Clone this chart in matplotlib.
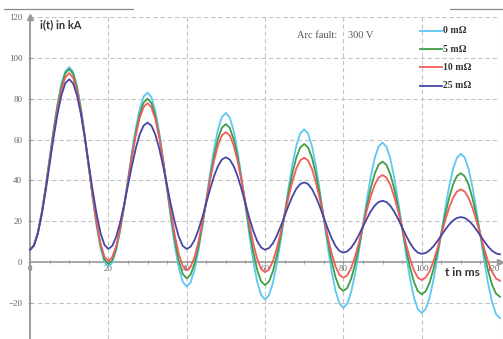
import matplotlib
matplotlib.use("Agg")
import matplotlib.pyplot as plt
from matplotlib.ticker import MultipleLocator
from matplotlib.lines import Line2D

# time axis in ms (1 ms steps)
t_ms = list(range(0, 121))

i_0mohm = [
    6, 8.2, 14.5, 24.4, 36.9, 50.8, 64.6, 77.1, 87.0, 93.4,
    95.5, 93.2, 86.2, 75.4, 61.8, 46.6, 31.4, 17.8, 7.0, 0.0,
    -2.3, -0.3, 5.8, 15.3, 27.1, 40.4, 53.6, 65.4, 74.9, 81.0,
    83, 80.7, 74.0, 63.4, 50.2, 35.5, 20.8, 7.6, -3.0, -9.7,
    -12, -10.0, -3.9, 5.5, 17.3, 30.5, 43.7, 55.5, 64.9, 71.0,
    73, 70.8, 64.3, 54.2, 41.5, 27.4, 13.2, 0.5, -9.6, -16.1,
    -18.3, -16.3, -10.4, -1.1, 10.4, 23.4, 36.3, 47.8, 57.1, 63.0,
    65, 62.9, 56.7, 47.0, 34.8, 21.3, 7.8, -4.4, -14.1, -20.3,
    -22.4, -20.5, -14.7, -5.7, 5.5, 18.1, 30.6, 41.8, 50.8, 56.6,
    58.5, 56.5, 50.6, 41.3, 29.7, 16.8, 3.8, -7.8, -17.1, -23.0,
    -25, -23.1, -17.6, -8.9, 1.9, 14.0, 26.1, 36.9, 45.6, 51.1,
    53, 51.1, 45.4, 36.4, 25.2, 12.8, 0.3, -10.9, -19.9, -25.6,
    -27.5,
]

i_5mohm = [
    6, 8.1, 14.4, 24.2, 36.5, 50.3, 64.0, 76.3, 86.1, 92.4,
    94.5, 92.2, 85.4, 74.8, 61.6, 46.8, 32.0, 18.7, 8.1, 1.3,
    -1, 0.9, 6.7, 15.7, 26.9, 39.5, 52.1, 63.3, 72.3, 78.1,
    80, 77.9, 71.6, 61.9, 49.6, 36.0, 22.4, 10.1, 0.4, -5.9,
    -8, -6.2, -0.8, 7.6, 18.1, 29.8, 41.5, 52.0, 60.4, 65.8,
    67.6, 65.7, 60.1, 51.4, 40.4, 28.2, 15.9, 5.0, -3.8, -9.4,
    -11.3, -9.6, -4.7, 2.9, 12.5, 23.3, 34.0, 43.6, 51.2, 56.1,
    57.8, 56.1, 51.0, 43.0, 33.0, 21.8, 10.6, 0.6, -7.4, -12.5,
    -14.2, -12.7, -8.2, -1.1, 7.7, 17.5, 27.3, 36.1, 43.2, 47.7,
    49.2, 47.6, 43.0, 35.8, 26.8, 16.7, 6.6, -2.4, -9.6, -14.2,
    -15.8, -14.4, -10.2, -3.6, 4.7, 13.9, 23.0, 31.3, 37.9, 42.1,
    43.5, 42.0, 37.8, 31.0, 22.6, 13.3, 3.9, -4.5, -11.3, -15.5,
    -17,
]

i_10mohm = [
    6, 8.1, 14.2, 23.8, 35.8, 49.3, 62.7, 74.7, 84.3, 90.4,
    92.5, 90.3, 83.8, 73.5, 60.8, 46.5, 32.2, 19.5, 9.2, 2.7,
    0.5, 2.4, 7.8, 16.4, 27.2, 39.2, 51.1, 61.9, 70.5, 75.9,
    77.8, 75.8, 70.0, 61.0, 49.6, 36.9, 24.2, 12.9, 3.8, -2.0,
    -4, -2.4, 2.4, 9.9, 19.3, 29.8, 40.3, 49.7, 57.2, 62.0,
    63.6, 62.0, 57.1, 49.5, 39.9, 29.3, 18.7, 9.1, 1.5, -3.4,
    -5, -3.7, 0.3, 6.6, 14.4, 23.1, 31.7, 39.5, 45.8, 49.8,
    51.1, 49.7, 45.5, 39.0, 30.8, 21.7, 12.6, 4.4, -2.1, -6.3,
    -7.7, -6.5, -2.9, 2.7, 9.7, 17.5, 25.3, 32.2, 37.8, 41.4,
    42.6, 41.4, 37.7, 32.0, 24.9, 16.9, 8.9, 1.8, -3.9, -7.6,
    -8.8, -7.7, -4.6, 0.3, 6.5, 13.4, 20.3, 26.5, 31.4, 34.5,
    35.6, 34.5, 31.3, 26.4, 20.1, 13.2, 6.3, 0.0, -4.9, -8.1,
    -9.2,
]

i_25mohm = [
    6, 8.0, 13.9, 23.2, 34.8, 47.8, 60.7, 72.3, 81.6, 87.5,
    89.5, 87.5, 81.6, 72.4, 60.8, 48.0, 35.1, 23.5, 14.3, 8.4,
    6.4, 7.9, 12.3, 19.2, 27.8, 37.4, 46.9, 55.6, 62.4, 66.8,
    68.3, 66.8, 62.4, 55.6, 46.9, 37.4, 27.8, 19.2, 12.3, 7.9,
    6.4, 7.5, 10.7, 15.7, 21.9, 28.9, 35.8, 42.1, 47.0, 50.2,
    51.3, 50.2, 47.0, 42.0, 35.7, 28.7, 21.6, 15.3, 10.3, 7.1,
    6, 6.8, 9.1, 12.8, 17.4, 22.5, 27.6, 32.2, 35.9, 38.2,
    39, 38.2, 35.7, 31.9, 27.1, 21.8, 16.5, 11.7, 7.9, 5.4,
    4.6, 5.2, 7.0, 9.8, 13.4, 17.3, 21.2, 24.8, 27.6, 29.4,
    30, 29.4, 27.5, 24.6, 21.0, 17.0, 13.0, 9.4, 6.5, 4.6,
    4, 4.4, 5.7, 7.7, 10.2, 13.0, 15.8, 18.3, 20.3, 21.6,
    22, 21.6, 20.3, 18.3, 15.7, 12.9, 10.1, 7.5, 5.5, 4.2,
    3.8,
]

series_labels = ["0 mΩ", "5 mΩ", "10 mΩ", "25 mΩ"]
series_colors = ["#5cc8f2", "#3f9e44", "#f25c5c", "#4646a6"]
x_ticks = [0, 20, 40, 60, 80, 100, 120]
y_ticks = [-20, 0, 20, 40, 60, 80, 100, 120]

W, H = 503, 339
fig = plt.figure(figsize=(W / 100, H / 100), dpi=100)
fig.patch.set_facecolor("white")

# axes: x=0 at px 30, x=120 at px 500; y=120 at px 17, figure bottom -> -37.7
ax = fig.add_axes([30 / W, 0, 470 / W, (H - 17) / H])
ax.set_xlim(0, 120)
ax.set_ylim(-37.7, 120)

for vals, lab, col in zip([i_0mohm, i_5mohm, i_10mohm, i_25mohm], series_labels, series_colors):
    ax.plot(t_ms, vals, color=col, lw=1.3, label=lab, zorder=3, clip_on=False)

# grid
gcol = "#c4c4c4"
for yv in y_ticks:
    if yv != 0:
        ax.axhline(yv, color=gcol, lw=0.8, ls=(0, (4, 2.5)), zorder=1)
for xv in x_ticks[1:]:
    ax.axvline(xv, color=gcol, lw=0.8, ls=(0, (4, 2.5)), zorder=1)

# spines
for s in ["top", "right"]:
    ax.spines[s].set_visible(False)
ax.spines["bottom"].set_position(("data", 0))
ax.spines["bottom"].set_color("#9a9a9a")
ax.spines["left"].set_color("#9a9a9a")
ax.spines["bottom"].set_linewidth(1.2)
ax.spines["left"].set_linewidth(1.4)
ax.spines["bottom"].set_zorder(2)

# arrows
ax.plot([1], [0], marker=">", ms=4, color="#9a9a9a", transform=ax.get_yaxis_transform(), clip_on=False)
ax.plot([0], [1], marker="^", ms=4, color="#9a9a9a", transform=ax.get_xaxis_transform(), clip_on=False)

ax.set_xticks(x_ticks)
ax.set_yticks(y_ticks)
ax.xaxis.set_minor_locator(MultipleLocator(5))
ax.tick_params(axis="x", which="both", direction="inout", length=3, color="#9a9a9a",
               labelsize=6.5, labelcolor="#666666", pad=1)
ax.tick_params(axis="y", which="both", direction="inout", length=3, color="#9a9a9a",
               labelsize=6.5, labelcolor="#666666", pad=4)
for lbl in ax.get_xticklabels() + ax.get_yticklabels():
    lbl.set_fontfamily("Liberation Serif")
for lbl in ax.get_xticklabels():
    lbl.set_zorder(4)
    lbl.set_bbox(dict(boxstyle="square,pad=0.05", fc="white", ec="none"))
ax.get_xticklabels()[-1].set_horizontalalignment("right")

# axis captions
fig.text(40 / W, 1 - 25 / H, "i(t) in kA", fontsize=8, fontweight="bold", family="Lato",
         color="#333333", va="center", ha="left")
fig.text(445 / W, 1 - 272 / H, "t in ms", fontsize=8.5, fontweight="bold", family="Lato",
         color="#333333", va="center", ha="left")

# annotation
fig.text(337 / W, 1 - 36 / H, "Arc fault:", fontsize=7.5, family="Liberation Serif",
         color="#555555", va="center", ha="right")
fig.text(348 / W, 1 - 36 / H, "300 V", fontsize=7.5, family="Liberation Serif",
         color="#555555", va="center", ha="left")

# legend (manual placement in figure pixels)
leg_y = [30.7, 49.3, 67.3, 86]
for yy, lab, col in zip(leg_y, series_labels, series_colors):
    fig.add_artist(Line2D([420 / W, 442 / W], [1 - yy / H, 1 - yy / H], color=col, lw=1.3))
    fig.text(443 / W, 1 - yy / H, lab, fontsize=7, fontweight="bold", family="Liberation Serif",
             color="#333333", va="center", ha="left")

# decorative top lines
fig.add_artist(Line2D([4 / W, 133 / W], [1 - 9 / H, 1 - 9 / H], color="#8a8a8a", lw=0.9))
fig.add_artist(Line2D([450 / W, 1.0], [1 - 9 / H, 1 - 9 / H], color="#8a8a8a", lw=0.9))

fig.savefig("out.png", dpi=100)
